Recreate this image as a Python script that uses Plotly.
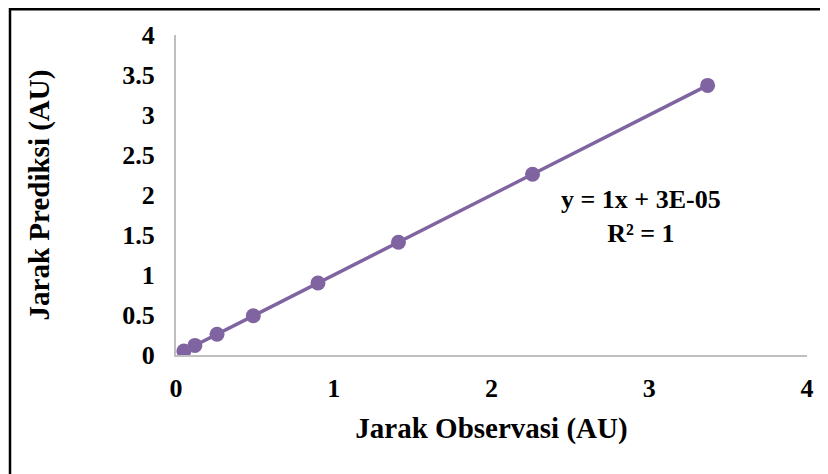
import numpy as np
import plotly.graph_objects as go

# Data
jarak_observasi = [0.05, 0.12, 0.26, 0.49, 0.90, 1.41, 2.26, 3.37]
jarak_prediksi = [0.05, 0.12, 0.26, 0.49, 0.90, 1.41, 2.26, 3.37]
x_ticks = [0, 1, 2, 3, 4]
y_ticks = [0, 0.5, 1, 1.5, 2, 2.5, 3, 3.5, 4]
y_tick_labels = ["0", "0.5", "1", "1.5", "2", "2.5", "3", "3.5", "4"]
equation_text = "y = 1x + 3E-05<br>R² = 1"

color = "#8064A2"
font_family = "Liberation Serif, Times New Roman, serif"

# Linear trendline from data
slope, intercept = np.polyfit(jarak_observasi, jarak_prediksi, 1)
tx = [min(jarak_observasi), max(jarak_observasi)]
ty = [slope * v + intercept for v in tx]

fig = go.Figure()
fig.add_trace(go.Scatter(x=tx, y=ty, mode="lines",
                         line=dict(color=color, width=3.5), showlegend=False,
                         hoverinfo="skip"))
fig.add_trace(go.Scatter(x=jarak_observasi, y=jarak_prediksi, mode="markers",
                         marker=dict(color=color, size=15), showlegend=False))

# page has an 8px body margin; size the figure so it fits the 828x474 window
W, H = 820, 466
L, R, T, B = 168, 21, 27, 119
pw = W - L - R
ph = H - T - B

fig.update_layout(
    width=W, height=H,
    margin=dict(l=L, r=R, t=T, b=B),
    plot_bgcolor="white", paper_bgcolor="white",
    font=dict(family=font_family, color="black"),
    xaxis=dict(range=[0, 4], tickvals=x_ticks, showgrid=False, zeroline=False,
               showline=True, linecolor="#BFBFBF", linewidth=2,
               ticks="", ticklabelstandoff=9,
               tickfont=dict(size=26, family=font_family, color="black", weight="bold"),
               title=dict(text="<b>Jarak Observasi (AU)</b>", font=dict(size=29), standoff=15)),
    yaxis=dict(range=[0, 4], tickvals=y_ticks, ticktext=y_tick_labels, showgrid=False,
               zeroline=False, showline=True, linecolor="#BFBFBF", linewidth=2,
               ticks="", ticklabelstandoff=14,
               tickfont=dict(size=26, family=font_family, color="black", weight="bold"),
               title=dict(text="<b>Jarak Prediksi (AU)</b>", font=dict(size=29), standoff=64)),
)

fig.add_annotation(x=(633 - L) / pw, y=(H - B - 208) / ph, xref="paper", yref="paper",
                   xanchor="center", yanchor="middle",
                   text="<b>" + equation_text + "</b>", showarrow=False,
                   font=dict(size=26, family=font_family, color="black"),
                   align="center")

# Outer chart border (top and left visible)
lx = (2 - L) / pw
ty_b = (H - B - 1.25) / ph
fig.add_shape(type="path", xref="paper", yref="paper",
              path=f"M {lx} {(H - B - 480) / ph} L {lx} {ty_b} L {(840 - L) / pw} {ty_b}",
              line=dict(color="black", width=2.5))

fig.write_html("out.html")
